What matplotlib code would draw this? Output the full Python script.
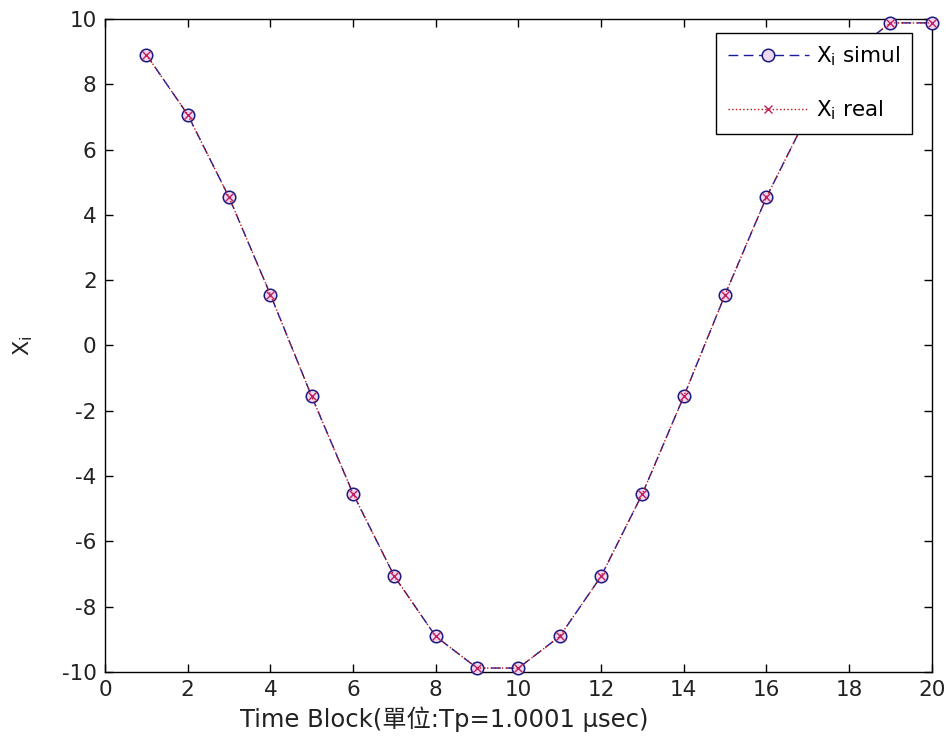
import matplotlib

matplotlib.use("Agg")
import matplotlib.pyplot as plt

plt.rcParams["font.family"] = ["DejaVu Sans", "Noto Sans CJK TC"]
plt.rcParams["mathtext.fontset"] = "dejavusans"
plt.rcParams["axes.unicode_minus"] = False

BLOCKS = list(range(1, 21))
X_SIMUL = [8.91, 7.07, 4.54, 1.56, -1.56, -4.54, -7.07, -8.91, -9.88, -9.88,
           -8.91, -7.07, -4.54, -1.56, 1.56, 4.54, 7.07, 8.91, 9.88, 9.88]
X_REAL = [8.91, 7.07, 4.54, 1.56, -1.56, -4.54, -7.07, -8.91, -9.88, -9.88,
          -8.91, -7.07, -4.54, -1.56, 1.56, 4.54, 7.07, 8.91, 9.88, 9.88]

XTICKS = list(range(0, 21, 2))
YTICKS = list(range(-10, 11, 2))

FS = 15.5

fig = plt.figure(figsize=(9.46, 7.44), dpi=100)
ax = fig.add_axes([0.111, 0.0968, 0.874, 0.8777])

ax.plot(BLOCKS, X_SIMUL, linestyle=(0, (7, 4)), color="#1a1aa0", linewidth=1.0,
        marker="o", markersize=9, markerfacecolor="#f0d8f0", markeredgecolor="#1a1a80",
        markeredgewidth=1.1, clip_on=False, zorder=3, label=r"X$_\mathrm{i}$ simul")
ax.plot(BLOCKS, X_REAL, linestyle=":", color="#c01010", linewidth=1.0,
        marker="x", markersize=6, markeredgecolor="#c02060",
        markeredgewidth=1.0, clip_on=False, zorder=4, label=r"X$_\mathrm{i}$ real")

ax.set_xlim(0, 20)
ax.set_ylim(-10, 10)
ax.set_xticks(XTICKS)
ax.set_yticks(YTICKS)
ax.tick_params(direction="in", length=6, width=1, top=True, right=True,
               labelsize=FS, pad=6, labelcolor="#222222")
for s in ax.spines.values():
    s.set_linewidth(1)

ax.set_xlabel("Time Block(單位:Tp=1.0001 μsec)", fontsize=17.5, color="#222222")
ax.xaxis.set_label_coords(0.41, -0.052)
ax.set_ylabel(r"X$_\mathrm{i}$", fontsize=16, color="#222222")
ax.yaxis.set_label_coords(-0.085, 0.5)

leg = ax.legend(loc="upper right", bbox_to_anchor=(0.9758, 0.9786),
                borderaxespad=0, fontsize=FS, fancybox=False, framealpha=1,
                edgecolor="black", handlelength=3.8, borderpad=0.55,
                labelspacing=1.4, handletextpad=0.3)
leg.get_frame().set_linewidth(1)

fig.savefig("out.png", dpi=100, facecolor="white")
